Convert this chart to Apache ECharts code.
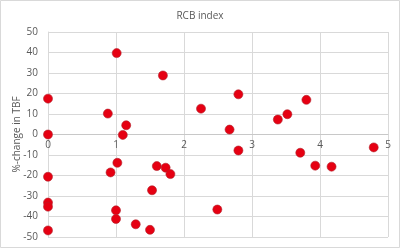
<!DOCTYPE html>
<html><head><meta charset="utf-8">
<script src="https://cdn.jsdelivr.net/npm/echarts@6/dist/echarts.min.js"></script>
<style>html,body{margin:0;padding:0;background:#fff}#c{width:400px;height:248px}</style>
</head><body><div id="c"></div>
<script>
const rcbIndex = [0, 0, 0, 0, 0, 0, 1.01, 0.88, 1.15, 1.10, 1.02, 0.92, 1.00, 1.00, 1.29, 1.50, 1.53, 1.60, 1.73, 1.80, 1.69, 2.25, 2.49, 2.67, 2.80, 2.80, 3.38, 3.52, 3.80, 3.71, 3.93, 4.17, 4.79];
const tbfChange = [17.5, 0, -20.6, -33.2, -35.2, -46.8, 39.7, 10.2, 4.5, -0.2, -13.8, -18.5, -37, -41.2, -43.8, -46.5, -27.2, -15.4, -16.2, -19.3, 28.8, 12.6, -36.6, 2.4, 19.6, -7.8, 7.3, 9.9, 16.9, -8.9, -15.2, -15.7, -6.3];
const titleText = 'RCB index';
const yName = '%-change in TBF';

const pts = rcbIndex.map((x, i) => [x, tbfChange[i]]);
const font = 'Open Sans';
const chart = echarts.init(document.getElementById('c'), null, {renderer: 'canvas'});
chart.setOption({
  animation: false,
  backgroundColor: '#fff',
  graphic: [{type: 'rect', shape: {x: 0.5, y: 0.5, width: 399, height: 247}, style: {fill: 'none', stroke: '#d9d9d9', lineWidth: 1}, silent: true}],
  title: {text: titleText, left: 'center', top: 6, textStyle: {fontFamily: font, fontSize: 10, fontWeight: 'normal', color: '#595959'}},
  grid: {left: 48, right: 12, top: 32, bottom: 11, containLabel: false, outerBoundsMode: 'none'},
  xAxis: {
    type: 'value', min: 0, max: 5, interval: 1, position: 'bottom',
    axisLine: {show: true, onZero: false, lineStyle: {color: '#c8c8c8'}},
    axisTick: {show: false},
    axisLabel: {fontFamily: font, fontSize: 10, color: '#595959', margin: 6, showMaxLabel: true},
    splitLine: {show: true, lineStyle: {color: '#d9d9d9'}}
  },
  yAxis: {
    type: 'value', min: -50, max: 50, interval: 10,
    name: yName, nameLocation: 'middle', nameGap: 26, nameMoveOverlap: false,
    nameTextStyle: {fontFamily: font, fontSize: 10, color: '#595959'},
    axisLine: {show: true, onZero: false, lineStyle: {color: '#d9d9d9'}},
    axisTick: {show: false},
    axisLabel: {fontFamily: font, fontSize: 10, color: '#595959', margin: 10},
    splitLine: {show: true, lineStyle: {color: '#d9d9d9'}}
  },
  series: [{
    type: 'scatter', data: pts, symbolSize: 9,
    itemStyle: {color: '#e60012', borderColor: '#b0202a', borderWidth: 0.6, opacity: 1}
  }]
});
// Move the x axis (line + labels) to where y = 0 sits, using the library's own scale.
const zeroY = chart.convertToPixel({yAxisIndex: 0}, 0);
const bottomY = chart.convertToPixel({yAxisIndex: 0}, -50);
chart.setOption({xAxis: {offset: zeroY - bottomY}});
</script></body></html>
